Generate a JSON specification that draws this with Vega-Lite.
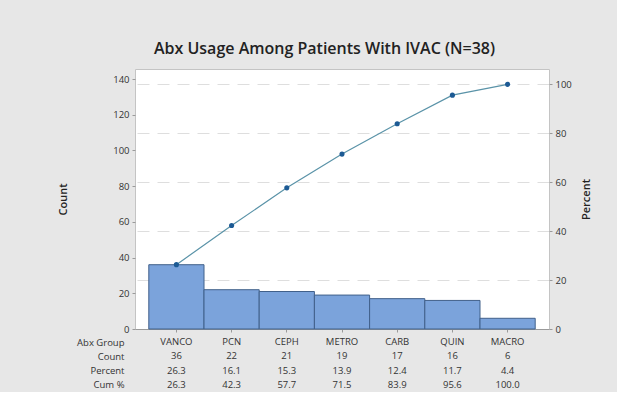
{
  "$schema": "https://vega.github.io/schema/vega-lite/v6.json",
  "background": "#e7e7e7",
  "padding": {"left": 57, "top": 40, "right": 25, "bottom": 0},
  "title": {
    "text": "Abx Usage Among Patients With IVAC (N=38)",
    "font": "Open Sans",
    "fontSize": 16,
    "fontWeight": 600,
    "color": "#222222",
    "anchor": "middle",
    "offset": 12
  },
  "config": {
    "font": "Open Sans",
    "view": {"fill": "white", "stroke": "#c4c4c4", "strokeWidth": 1},
    "axis": {
      "labelFont": "Open Sans",
      "labelFontSize": 9.5,
      "labelColor": "#333333",
      "titleFont": "Open Sans",
      "titleFontSize": 11,
      "titleFontWeight": 600,
      "titleColor": "#222222",
      "tickColor": "#9a9a9a",
      "domainColor": "#9a9a9a",
      "tickSize": 3
    }
  },
  "data": {
    "values": [
      {"group": "VANCO", "count": 36, "percent": 26.3, "cum": 26.3},
      {"group": "PCN", "count": 22, "percent": 16.1, "cum": 42.3},
      {"group": "CEPH", "count": 21, "percent": 15.3, "cum": 57.7},
      {"group": "METRO", "count": 19, "percent": 13.9, "cum": 71.5},
      {"group": "CARB", "count": 17, "percent": 12.4, "cum": 83.9},
      {"group": "QUIN", "count": 16, "percent": 11.7, "cum": 95.6},
      {"group": "MACRO", "count": 6, "percent": 4.4, "cum": 100.0}
    ]
  },
  "spacing": 1,
  "vconcat": [
    {
      "width": 414,
      "height": 260,
      "layer": [
        {
          "mark": {"type": "bar", "fill": "#7ba3db", "stroke": "#41608a", "strokeWidth": 1},
          "encoding": {
            "x": {
              "field": "group", "type": "nominal", "sort": null,
              "scale": {"paddingInner": 0, "paddingOuter": 0.25},
              "axis": {"labels": false, "title": null, "ticks": true, "domain": true}
            },
            "y": {
              "field": "count", "type": "quantitative",
              "scale": {"domain": [0, 145.6], "nice": false},
              "axis": {"values": [0, 20, 40, 60, 80, 100, 120, 140], "grid": false, "title": "Count", "titlePadding": 44, "labelPadding": 3, "domain": false}
            }
          }
        },
        {
          "encoding": {
            "x": {"field": "group", "type": "nominal", "sort": null, "scale": {"paddingInner": 0, "paddingOuter": 0.25}},
            "y": {
              "field": "cum", "type": "quantitative",
              "scale": {"domain": [0, 106.28], "nice": false},
              "axis": {
                "orient": "right", "values": [0, 20, 40, 60, 80, 100], "grid": true,
                "gridDash": [12, 8], "gridColor": "#dedede", "gridWidth": 1,
                "title": "Percent", "titleAngle": 270, "titleBaseline": "bottom", "titlePadding": 20, "labelPadding": 3, "domain": false
              }
            }
          },
          "layer": [
            {"mark": {"type": "line", "color": "#5a93a8", "strokeWidth": 1.2}},
            {"mark": {"type": "point", "filled": true, "color": "#1c5a94", "size": 26, "opacity": 1}}
          ]
        }
      ],
      "resolve": {"scale": {"y": "independent"}}
    },
    {
      "width": 414,
      "height": 57,
      "view": {"fill": null, "stroke": null},
      "encoding": {
        "x": {
          "field": "group", "type": "nominal", "sort": null,
          "scale": {"type": "band", "paddingInner": 0, "paddingOuter": 0.25},
          "axis": null
        }
      },
      "layer": [
        {
          "mark": {"type": "text", "fontSize": 9.5, "color": "#333333", "font": "Open Sans"},
          "encoding": {
            "y": {
              "datum": "Abx Group", "type": "nominal",
              "scale": {"type": "point", "domain": ["Abx Group", "Count", "Percent", "Cum %"], "padding": 0.5},
              "axis": {"title": null, "domain": false, "ticks": false, "labelPadding": 11, "labelFontSize": 9.5}
            },
            "text": {"field": "group"}
          }
        },
        {
          "mark": {"type": "text", "fontSize": 9.5, "color": "#333333", "font": "Open Sans"},
          "encoding": {"y": {"datum": "Count", "type": "nominal"}, "text": {"field": "count"}}
        },
        {
          "mark": {"type": "text", "fontSize": 9.5, "color": "#333333", "font": "Open Sans"},
          "encoding": {"y": {"datum": "Percent", "type": "nominal"}, "text": {"field": "percent", "format": ".1f"}}
        },
        {
          "mark": {"type": "text", "fontSize": 9.5, "color": "#333333", "font": "Open Sans"},
          "encoding": {"y": {"datum": "Cum %", "type": "nominal"}, "text": {"field": "cum", "format": ".1f"}}
        }
      ]
    }
  ]
}
